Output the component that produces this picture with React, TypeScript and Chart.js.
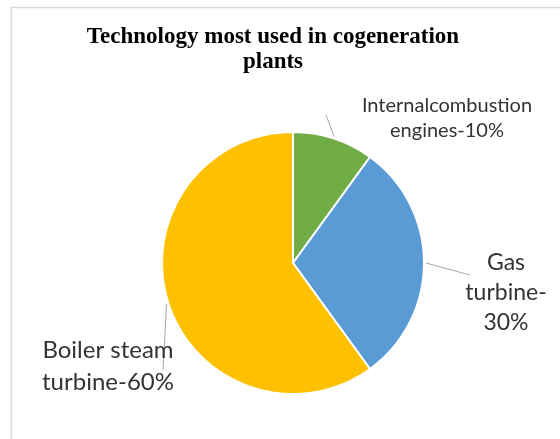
import React, { useEffect, useRef } from "react";
import { Chart, registerables } from "chart.js";

Chart.register(...registerables);

const categories = ["Internal combustion engines", "Gas turbine", "Boiler steam turbine"];
const shares = [10, 30, 60];
const labelLines = [
  ["Internalcombustion", "engines-10%"],
  ["Gas", "turbine-", "30%"],
  ["Boiler steam", "turbine-60%"],
];
const titleLines = ["Technology most used in cogeneration", "plants"];
const sliceColors = ["#70AD47", "#5B9BD5", "#FFC000"];

// label layout: leader end point, text center, font size, line height
const labelLayout = [
  { text: [447, 118], size: 20, lh: 25, leadEnd: [326, 115] },
  { text: [506, 293], size: 23, lh: 30, leadEnd: [470, 275] },
  { text: [108, 366], size: 24, lh: 32, leadEnd: [163, 370] },
];

const overlayPlugin = {
  id: "overlay",
  afterDraw(chart: any) {
    const ctx = chart.ctx;
    ctx.save();
    // frame
    ctx.strokeStyle = "#D9D9D9";
    ctx.lineWidth = 1.5;
    ctx.strokeRect(11.5, 7.5, 600, 500);
    // title
    ctx.fillStyle = "#000000";
    ctx.font = "bold 23px 'Liberation Serif', 'Times New Roman', serif";
    ctx.textAlign = "center";
    ctx.textBaseline = "alphabetic";
    ctx.fillText(titleLines[0], 273, 43);
    ctx.fillText(titleLines[1], 273, 68);

    const meta = chart.getDatasetMeta(0);
    meta.data.forEach((arc: any, i: number) => {
      const { x, y, startAngle, endAngle, outerRadius } = arc.getProps(
        ["x", "y", "startAngle", "endAngle", "outerRadius"],
        true
      );
      const mid = (startAngle + endAngle) / 2;
      const sx = x + Math.cos(mid) * (outerRadius + 2);
      const sy = y + Math.sin(mid) * (outerRadius + 2);
      const lay: any = labelLayout[i];
      ctx.strokeStyle = "#A6A6A6";
      ctx.lineWidth = 1;
      ctx.beginPath();
      ctx.moveTo(sx, sy);
      ctx.lineTo(lay.leadEnd[0], lay.leadEnd[1]);
      ctx.stroke();

      ctx.fillStyle = "#333333";
      ctx.font = `${lay.size}px Lato, 'Noto Sans', sans-serif`;
      ctx.textAlign = "center";
      ctx.textBaseline = "middle";
      const lines = labelLines[i];
      const h = (lines.length - 1) * lay.lh;
      lines.forEach((ln: string, k: number) => {
        ctx.fillText(ln, lay.text[0], lay.text[1] - h / 2 + k * lay.lh);
      });
    });
    ctx.restore();
  },
};

export default function App() {
  const ref = useRef<HTMLCanvasElement>(null);
  useEffect(() => {
    if (!ref.current) return;
    const chart = new Chart(ref.current, {
      type: "pie",
      data: {
        labels: categories,
        datasets: [
          {
            data: shares,
            backgroundColor: sliceColors,
            borderColor: "#FFFFFF",
            borderWidth: 2,
          },
        ],
      },
      options: {
        responsive: false,
        animation: false,
        devicePixelRatio: 1,
        radius: 131,
        layout: { padding: { left: 160, right: 134, top: 130, bottom: 43 } },
        plugins: {
          legend: { display: false },
          title: { display: false },
          tooltip: { enabled: false },
        },
      },
      plugins: [overlayPlugin],
    });
    return () => chart.destroy();
  }, []);
  return (
    <div style={{ position: "fixed", left: 0, top: 0, width: 560, height: 439, background: "#fff" }}>
      <canvas ref={ref} width={560} height={439} />
    </div>
  );
}
